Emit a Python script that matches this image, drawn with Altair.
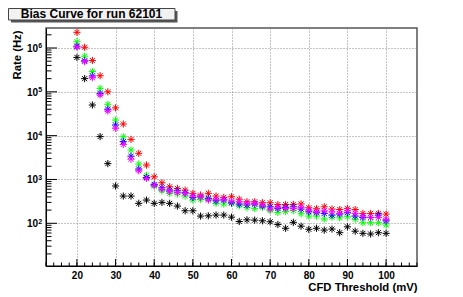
import altair as alt
import pandas as pd

# ---------------- data ----------------
thresholds = [20, 22, 24, 26, 28, 30, 32, 34, 36, 38, 40, 42, 44, 46, 48, 50, 52, 54, 56, 58, 60,
              62, 64, 66, 68, 70, 72, 74, 76, 78, 80, 82, 84, 86, 88, 90, 92, 94, 96, 98, 100]

red = [2.28e6, 1.04e6, 5.2e5, 2.33e5, 1.0e5, 4.3e4, 1.84e4, 8.2e3, 3.95e3, 2.13e3, 1150,
       841, 681, 626, 573, 482, 441, 482, 418, 390, 403,
       355, 310, 310, 295, 294, 268, 268, 270, 277, 226,
       215, 238, 212, 206, 219, 206, 168, 168, 168, 162]

green = [1.39e6, 6.5e5, 2.9e5, 1.2e5, 5.2e4, 2.27e4, 9.4e3, 4.7e3, 2.25e3, 1.24e3, 706,
         552, 482, 464, 418, 339, 352, 352, 285, 274, 285,
         250, 228, 219, 231, 195, 177, 185, 195, 165, 146,
         146, 125, 138, 133, 141, 123, 103, 103, 103, 91]

blue = [1.1e6, 5.1e5, 2.3e5, 9.2e4, 4.0e4, 1.75e4, 7.3e3, 3.4e3, 1.73e3, 1.11e3, 773,
        647, 573, 552, 497, 390, 403, 370, 327, 339, 294,
        274, 261, 274, 247, 238, 219, 231, 238, 211, 183,
        174, 168, 154, 162, 174, 146, 136, 136, 154, 114]

magenta = [1.05e6, 4.9e5, 2.1e5, 8.5e4, 3.65e4, 1.47e4, 6.3e3, 2.9e3, 1.58e3, 1.06e3, 733,
           594, 530, 507, 482, 418, 403, 339, 352, 352, 321,
           310, 285, 285, 261, 208, 231, 219, 219, 231, 200,
           183, 193, 183, 168, 193, 168, 146, 136, 136, 123]

black = [6.1e5, 2.0e5, 5.0e4, 9.5e3, 2.3e3, 710, 418, 418, 285, 339, 285,
         300, 285, 247, 193, 193, 146, 148, 154, 154, 138,
         110, 120, 118, 114, 108, 94, 77, 105, 86, 73,
         77, 70, 74, 61, 83, 66, 59, 57, 61, 59]

series_names = ["Black", "Red", "Green", "Blue", "Magenta"]
series_values = [black, red, green, blue, magenta]
series_colors = ["#000000", "#ff0000", "#00ff00", "#0000ff", "#ff00ff"]

x_tick_labels = [20, 30, 40, 50, 60, 70, 80, 90, 100]
y_decades = [2, 3, 4, 5, 6]

title_text = "Bias Curve for run 62101"
x_title = "CFD Threshold (mV)"
y_title = "Rate (Hz)"

# ---------------- tables ----------------
rows = []
for name, vals in zip(series_names, series_values):
    for t, v in zip(thresholds, vals):
        rows.append({"threshold": t, "rate": v, "series": name})
df = pd.DataFrame(rows)

y_major = [10.0 ** e for e in y_decades]
y_minor = [m * 10.0 ** e for e in range(1, 7) for m in range(2, 10) if 10.6 <= m * 10.0 ** e <= 2.86e6]
x_minor = list(range(12, 109, 2))

W, H = 371, 238
FONT = "Liberation Sans"

xscale = alt.Scale(domain=[12, 108], nice=False, zero=False)
yscale = alt.Scale(type="log", domain=[10.6, 2.86e6], nice=False)

xaxis = alt.Axis(values=x_tick_labels, title=x_title, ticks=False,
                 labelPadding=12, labelBaseline="alphabetic",
                 labelFont=FONT, labelFontSize=10, labelFontWeight="bold",
                 labelColor="#000", labelFlush=False,
                 titleFont=FONT, titleFontSize=11.3, titleFontWeight="bold",
                 titleColor="#000", titleAlign="right", titleAnchor="end",
                 titleX=W, titleY=24.5, titleBaseline="alphabetic",
                 domain=True, domainColor="#000", domainWidth=1,
                 grid=True, gridColor="#888", gridDash=[1, 2], gridWidth=1)
yaxis = alt.Axis(values=y_major, title=y_title, ticks=False, labels=False,
                 titleFont=FONT, titleFontSize=11.3, titleFontWeight="bold",
                 titleColor="#000", titleAngle=-90, titleAlign="right",
                 titleBaseline="middle", titleX=-29, titleY=2,
                 domain=True, domainColor="#000", domainWidth=1,
                 grid=True, gridColor="#888", gridDash=[1, 2], gridWidth=1)

asterisk = "M-1,0L1,0M0,-1L0,1M-0.7,-0.7L0.7,0.7M-0.7,0.7L0.7,-0.7"

points = alt.Chart(df).mark_point(
    shape=asterisk, filled=False, size=52, strokeWidth=1, opacity=1
).encode(
    x=alt.X("threshold:Q", scale=xscale, axis=xaxis),
    y=alt.Y("rate:Q", scale=yscale, axis=yaxis),
    color=alt.Color("series:N", scale=alt.Scale(domain=series_names, range=series_colors),
                    legend=None),
)

# inward ticks like the reference
y_minor_ticks = alt.Chart(pd.DataFrame({"v": y_minor})).mark_rule(
    color="#000", strokeWidth=1).encode(
    y=alt.Y("v:Q", scale=yscale, axis=yaxis), x=alt.value(0), x2=alt.value(5.5))
y_major_ticks = alt.Chart(pd.DataFrame({"v": y_major})).mark_rule(
    color="#000", strokeWidth=1).encode(
    y=alt.Y("v:Q", scale=yscale, axis=yaxis), x=alt.value(0), x2=alt.value(11))
x_minor_ticks = alt.Chart(pd.DataFrame({"v": x_minor})).mark_rule(
    color="#000", strokeWidth=1).encode(
    x=alt.X("v:Q", scale=xscale, axis=xaxis), y=alt.value(H), y2=alt.value(H - 3.5))
x_major_ticks = alt.Chart(pd.DataFrame({"v": x_tick_labels})).mark_rule(
    color="#000", strokeWidth=1).encode(
    x=alt.X("v:Q", scale=xscale, axis=xaxis), y=alt.value(H), y2=alt.value(H - 7))

# y labels 10^n
ylab_df = pd.DataFrame({"v": y_major, "base": ["10"] * len(y_major),
                        "exp": [str(e) for e in y_decades]})
ylab_base = alt.Chart(ylab_df).mark_text(
    align="right", baseline="alphabetic", font=FONT, fontSize=10, fontWeight="bold",
    color="#000", dy=4).encode(
    y=alt.Y("v:Q", scale=yscale, axis=yaxis), x=alt.value(-8), text="base:N")
ylab_exp = alt.Chart(ylab_df).mark_text(
    align="left", baseline="alphabetic", font=FONT, fontSize=7, fontWeight="bold",
    color="#000", dy=0.5).encode(
    y=alt.Y("v:Q", scale=yscale, axis=yaxis), x=alt.value(-7.7), text="exp:N")

# title box with shadow
one = pd.DataFrame({"t": [title_text]})
shadow = alt.Chart(one).mark_rect(fill="#555555").encode(
    x=alt.value(-35), x2=alt.value(131.5), y=alt.value(-17), y2=alt.value(-5.5))
box = alt.Chart(one).mark_rect(fill="#f2f2f2", stroke="#444", strokeWidth=1).encode(
    x=alt.value(-37.5), x2=alt.value(129), y=alt.value(-19.5), y2=alt.value(-8))
title = alt.Chart(one).mark_text(
    align="center", baseline="alphabetic", font=FONT, fontSize=12, fontWeight="bold",
    color="#000").encode(x=alt.value(45.5), y=alt.value(-10.5), text="t:N")

chart = alt.layer(
    points, y_minor_ticks, y_major_ticks, x_minor_ticks, x_major_ticks,
    ylab_base, ylab_exp, shadow, box, title
).properties(
    width=W, height=H,
    autosize=alt.AutoSizeParams(type="none"),
    padding={"left": 38, "top": 20, "right": 38, "bottom": 27},
    background="#ffffff",
).configure_view(stroke="#555", strokeWidth=1.5)

chart.save("out.html", embed_options={"renderer": "svg", "actions": False})
